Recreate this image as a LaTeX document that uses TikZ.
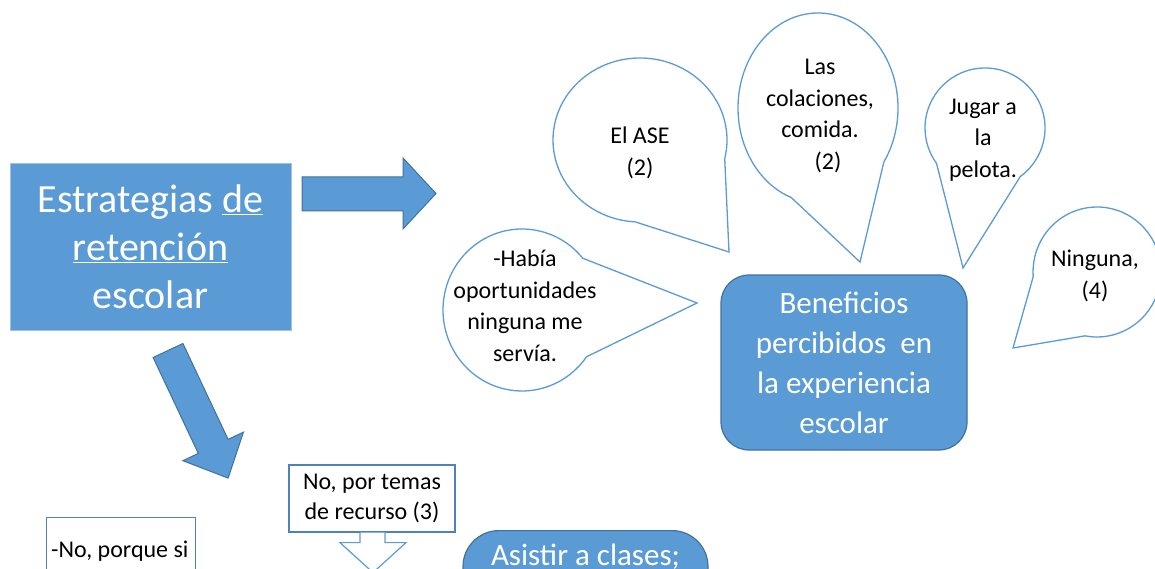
\documentclass[tikz,border=0pt]{standalone}
\usepackage{fontspec}
\setmainfont{Carlito}
\usetikzlibrary{shapes.callouts}
\definecolor{azul}{HTML}{5B9BD5}
\definecolor{azulosc}{HTML}{41719C}
\definecolor{borde}{HTML}{4F81BD}

\begin{document}
\begin{tikzpicture}[x=1pt,y=-1pt,
  caja/.style={rectangle,fill=azul,draw=azulosc,line width=1.2pt,text=white,align=center},
  globo/.style={ellipse callout,draw=azul,line width=1.3pt,fill=white,inner sep=0pt,callout pointer arc=75},
  texto/.style={align=center,font=\fontsize{24}{31.5}\selectfont},
  flecha/.style={fill=azul,draw=azulosc,line width=1pt,line join=miter}]
\useasboundingbox (0,0) rectangle (1155,569);
\clip (0,0) rectangle (1155,569);

\node[caja,draw=azul!60!white,line width=0.8pt,minimum width=281pt,minimum height=167pt,
  font=\fontsize{40}{48}\selectfont] (estr) at (150.5,246.5)
  {Estrategias \underline{de}\\\underline{retención}\\escolar};

\draw[flecha] (302,177) -- (403,177) -- (403,158) -- (436,193.5) -- (403,229) -- (403,211) -- (302,211) -- cycle;
\draw[flecha] (182.9,343.5) -- (228.1,439.4) -- (243.5,432.1) -- (228.1,478.1) -- (182.9,460.7) -- (198.3,453.4) -- (153.1,357.5) -- cycle;

\node[caja,rounded corners=28pt,minimum width=246pt,minimum height=175pt,
  font=\fontsize{31}{40}\selectfont] (benef) at (844,362.5)
  {Beneficios\\percibidos\ \ en\\la experiencia\\escolar};

% globos
\node[globo,minimum width=174pt,minimum height=164pt,callout absolute pointer={(729,252)},callout pointer arc=80] (g-ase) at (640,140) {};
\node[texto] (t-ase) at (640,153) {El ASE\\(2)};
\node[globo,minimum width=160pt,minimum height=190pt,callout absolute pointer={(860,262)}] (g-col) at (818,108) {};
\node[texto] (t-col) at (820,116) {Las\\colaciones,\\comida.\\\hspace*{16pt}(2)};
\node[globo,minimum width=120pt,minimum height=120pt,callout absolute pointer={(963,268)},callout pointer arc=90] (g-jug) at (985,128) {};
\node[texto] (t-jug) at (983,140) {Jugar a\\la\\pelota.};
\node[globo,minimum width=128pt,minimum height=130pt,callout absolute pointer={(1013,348)}] (g-nin) at (1097,272) {};
\node[texto] (t-nin) at (1095,276) {Ninguna,\\(4)};
\node[globo,minimum width=158pt,minimum height=162pt,callout absolute pointer={(697,303)}] (g-hab) at (522,310) {};
\node[texto] (t-hab) at (525,306) {-Había\\oportunidades\\ninguna me\\servía.};

% abajo
\node[texto,draw=borde,line width=1.2pt,fill=white,minimum width=166pt,minimum height=67pt,
  font=\fontsize{24}{30}\selectfont] (tema) at (372,498.5) {No, por temas\\de recurso (3)};
\draw[draw=azul,line width=1.2pt,fill=white] ([xshift=-12pt]tema.south) -- ++(0,10) -- ++(-20,0)
  -- ++(33,30) -- ++(33,-30) -- ++(-21,0) -- ++(0,-10);
\node[draw=borde,line width=1.2pt,minimum width=149pt,minimum height=110pt,anchor=north west] (porque) at (46,517) {};
\node[font=\fontsize{24}{30}\selectfont,anchor=base west,inner sep=0pt] (porque-t) at (51,557) {-No, porque si};
\node[caja,rounded corners=36pt,minimum width=245pt,minimum height=130pt,anchor=north] (asis) at (585.5,530) {};
\node[text=white,font=\fontsize{31}{40}\selectfont,anchor=base] (asis-t) at (585.5,565) {Asistir a clases;};
\end{tikzpicture}
\end{document}
